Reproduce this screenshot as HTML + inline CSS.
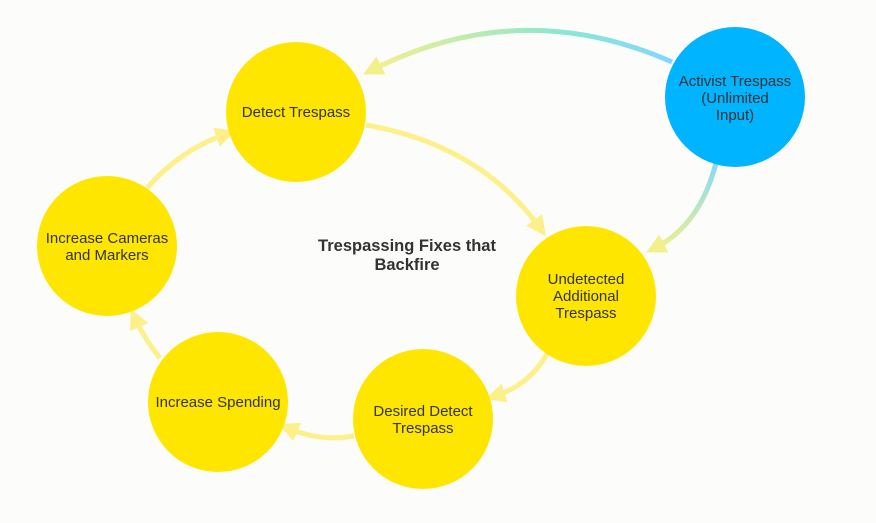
<!DOCTYPE html>
<html><head><style>
body{margin:0;background:#fcfcfa;}
svg{display:block}
text{font-family:"Liberation Sans",sans-serif;font-size:15px;fill:#333;text-anchor:middle}
</style></head><body>
<svg width="876" height="523" viewBox="0 0 876 523">
<defs>
<marker id="y" markerWidth="4" markerHeight="4" refX="2" refY="2" orient="auto" markerUnits="strokeWidth"><path d="M0,0 L4,2 L0,4 z" fill="#fdf08a"/></marker>
<marker id="g" markerWidth="4" markerHeight="4" refX="2" refY="2" orient="auto" markerUnits="strokeWidth"><path d="M0,0 L4,2 L0,4 z" fill="#f2f08a"/></marker>
<linearGradient id="lg1" x1="672" y1="0" x2="365" y2="0" gradientUnits="userSpaceOnUse"><stop offset="0" stop-color="#7fd8ff"/><stop offset="0.4" stop-color="#8ee8cc"/><stop offset="1" stop-color="#faf08a"/></linearGradient>
<linearGradient id="lg2" x1="0" y1="160" x2="0" y2="250" gradientUnits="userSpaceOnUse"><stop offset="0" stop-color="#7fd8ff"/><stop offset="1" stop-color="#f2f08a"/></linearGradient>
</defs>
<g fill="none" stroke-width="5">
<path d="M672,62 Q520,-5 372,70" stroke="url(#lg1)" marker-end="url(#g)"/>
<path d="M716,163 Q700,225 655,248" stroke="url(#lg2)" marker-end="url(#g)"/>
<path d="M366,125 Q480,145 540,228" stroke="#fdf08a" marker-end="url(#y)"/>
<path d="M548,352 Q530,385 495,396" stroke="#fdf08a" marker-end="url(#y)"/>
<path d="M354,436 Q320,442 288,428" stroke="#fdf08a" marker-end="url(#y)"/>
<path d="M160,358 Q145,340 135,318" stroke="#fdf08a" marker-end="url(#y)"/>
<path d="M147,188 Q180,150 226,134" stroke="#fdf08a" marker-end="url(#y)"/>
</g>
<circle cx="296" cy="112" r="70" fill="#ffe600"/>
<circle cx="735" cy="97" r="70" fill="#00b4ff"/>
<circle cx="586" cy="296" r="70" fill="#ffe600"/>
<circle cx="423" cy="419" r="70" fill="#ffe600"/>
<circle cx="218" cy="402" r="70" fill="#ffe600"/>
<circle cx="107" cy="246" r="70" fill="#ffe600"/>
<text x="296" y="117">Detect Trespass</text>
<text x="735" y="86">Activist Trespass</text><text x="735" y="103">(Unlimited</text><text x="735" y="120">Input)</text>
<text x="586" y="284">Undetected</text><text x="586" y="301">Additional</text><text x="586" y="318">Trespass</text>
<text x="423" y="416">Desired Detect</text><text x="423" y="433">Trespass</text>
<text x="218" y="407">Increase Spending</text>
<text x="107" y="243">Increase Cameras</text><text x="107" y="260">and Markers</text>
<text x="407" y="251" style="font-weight:bold;font-size:16.5px">Trespassing Fixes that</text>
<text x="407" y="270" style="font-weight:bold;font-size:16.5px">Backfire</text>
</svg>
</body></html>
